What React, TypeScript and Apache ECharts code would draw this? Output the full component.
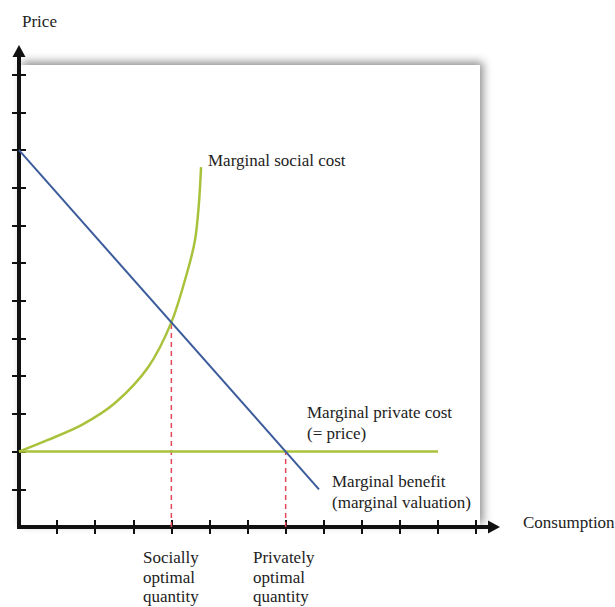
import React, { useEffect, useRef } from "react";
import * as echarts from "echarts";

const xTicks = [1, 2, 3, 4, 5, 6, 7, 8, 9, 10, 11, 12];
const yTicks = [1, 2, 3, 4, 5, 6, 7, 8, 9, 10, 11, 12];

const marginalBenefit = [
  [0, 10],
  [7.875, 1],
];
const marginalPrivateCost = [
  [0, 2],
  [11, 2],
];
const marginalSocialCost = [
  [0, 2],
  [0.76, 2.31],
  [1.65, 2.71],
  [2.52, 3.29],
  [3.39, 4.24],
  [4.0, 5.43],
  [4.41, 6.74],
  [4.62, 7.61],
  [4.72, 8.54],
  [4.78, 9.55],
];
const sociallyOptimal = [
  [4, 0],
  [4, 5.43],
];
const privatelyOptimal = [
  [7, 0],
  [7, 2],
];

const BLUE = "#3b5b9b";
const GREEN = "#a9c23c";
const RED = "#e4475a";
const FONT = "Liberation Serif";
const TEXT = "#222";

export default function App() {
  const ref = useRef<HTMLDivElement>(null);
  useEffect(() => {
    const chart = echarts.init(ref.current!, null, { renderer: "svg" });
    const txt = (text: string, x: number, y: number) => ({
      type: "text",
      x,
      y,
      z: 30,
      style: {
        text,
        fill: TEXT,
        font: `17px "${FONT}"`,
        textVerticalAlign: "middle",
        textAlign: "left",
      },
    });
    const axisLine = {
      show: true,
      symbol: ["none", "triangle"],
      symbolSize: [13, 12],
      lineStyle: {
        color: "#111",
        width: 4,
        cap: "square",
      },
    };
    const tickStyle = { color: "#111", width: 2 };
    const xBase = {
      type: "value",
      min: 0,
      max: 12.47,
      position: "bottom",
      z: 10,
      splitLine: { show: false },
      axisLabel: { show: false },
    };
    const yBase = {
      type: "value",
      min: 0,
      max: 12.63,
      position: "left",
      z: 10,
      splitLine: { show: false },
      axisLabel: { show: false },
    };
    chart.setOption({
      animation: false,
      grid: { left: 19, right: 121, top: 51, bottom: 80 },
      xAxis: [
        {
          ...xBase,
          axisLine,
          axisTick: { show: true, length: 7, inside: false, customValues: xTicks, lineStyle: tickStyle },
        },
        {
          ...xBase,
          axisLine: { show: false },
          axisTick: { show: true, length: 7, inside: true, customValues: xTicks, lineStyle: tickStyle },
        },
      ],
      yAxis: [
        {
          ...yBase,
          axisLine,
          axisTick: { show: true, length: 7, inside: false, customValues: yTicks, lineStyle: tickStyle },
        },
        {
          ...yBase,
          axisLine: { show: false },
          axisTick: { show: true, length: 7, inside: true, customValues: yTicks, lineStyle: tickStyle },
        },
      ],
      graphic: [
        {
          type: "rect",
          z: 0,
          shape: { x: 19, y: 65, width: 461, height: 462 },
          style: {
            fill: "#fff",
            shadowBlur: 10,
            shadowOffsetX: 3,
            shadowOffsetY: -3,
            shadowColor: "rgba(0,0,0,0.45)",
          },
        },
        txt("Price", 22, 21),
        txt("Marginal social cost", 208, 160),
        txt("Marginal private cost", 307, 412),
        txt("(= price)", 307, 433),
        txt("Marginal benefit", 332, 481),
        txt("(marginal valuation)", 332, 502),
        txt("Consumption", 523, 522),
        txt("Socially", 143, 557),
        txt("optimal", 143, 577),
        txt("quantity", 143, 596),
        txt("Privately", 253, 557),
        txt("optimal", 253, 577),
        txt("quantity", 253, 596),
      ],
      series: [
        {
          type: "line",
          data: sociallyOptimal,
          symbol: "none",
          lineStyle: { color: RED, width: 1.5, type: [5, 4] },
          z: 11,
        },
        {
          type: "line",
          data: privatelyOptimal,
          symbol: "none",
          lineStyle: { color: RED, width: 1.5, type: [5, 4] },
          z: 11,
        },
        {
          type: "line",
          data: marginalPrivateCost,
          symbol: "none",
          lineStyle: { color: GREEN, width: 2.5 },
          z: 12,
        },
        {
          type: "line",
          data: marginalSocialCost,
          symbol: "none",
          smooth: 0.3,
          lineStyle: { color: GREEN, width: 2.5 },
          z: 12,
        },
        {
          type: "line",
          data: marginalBenefit,
          symbol: "none",
          lineStyle: { color: BLUE, width: 2 },
          z: 13,
        },
      ],
    });
    return () => chart.dispose();
  }, []);
  return <div ref={ref} style={{ width: 615, height: 607, position: "absolute", left: 0, top: 0 }} />;
}
